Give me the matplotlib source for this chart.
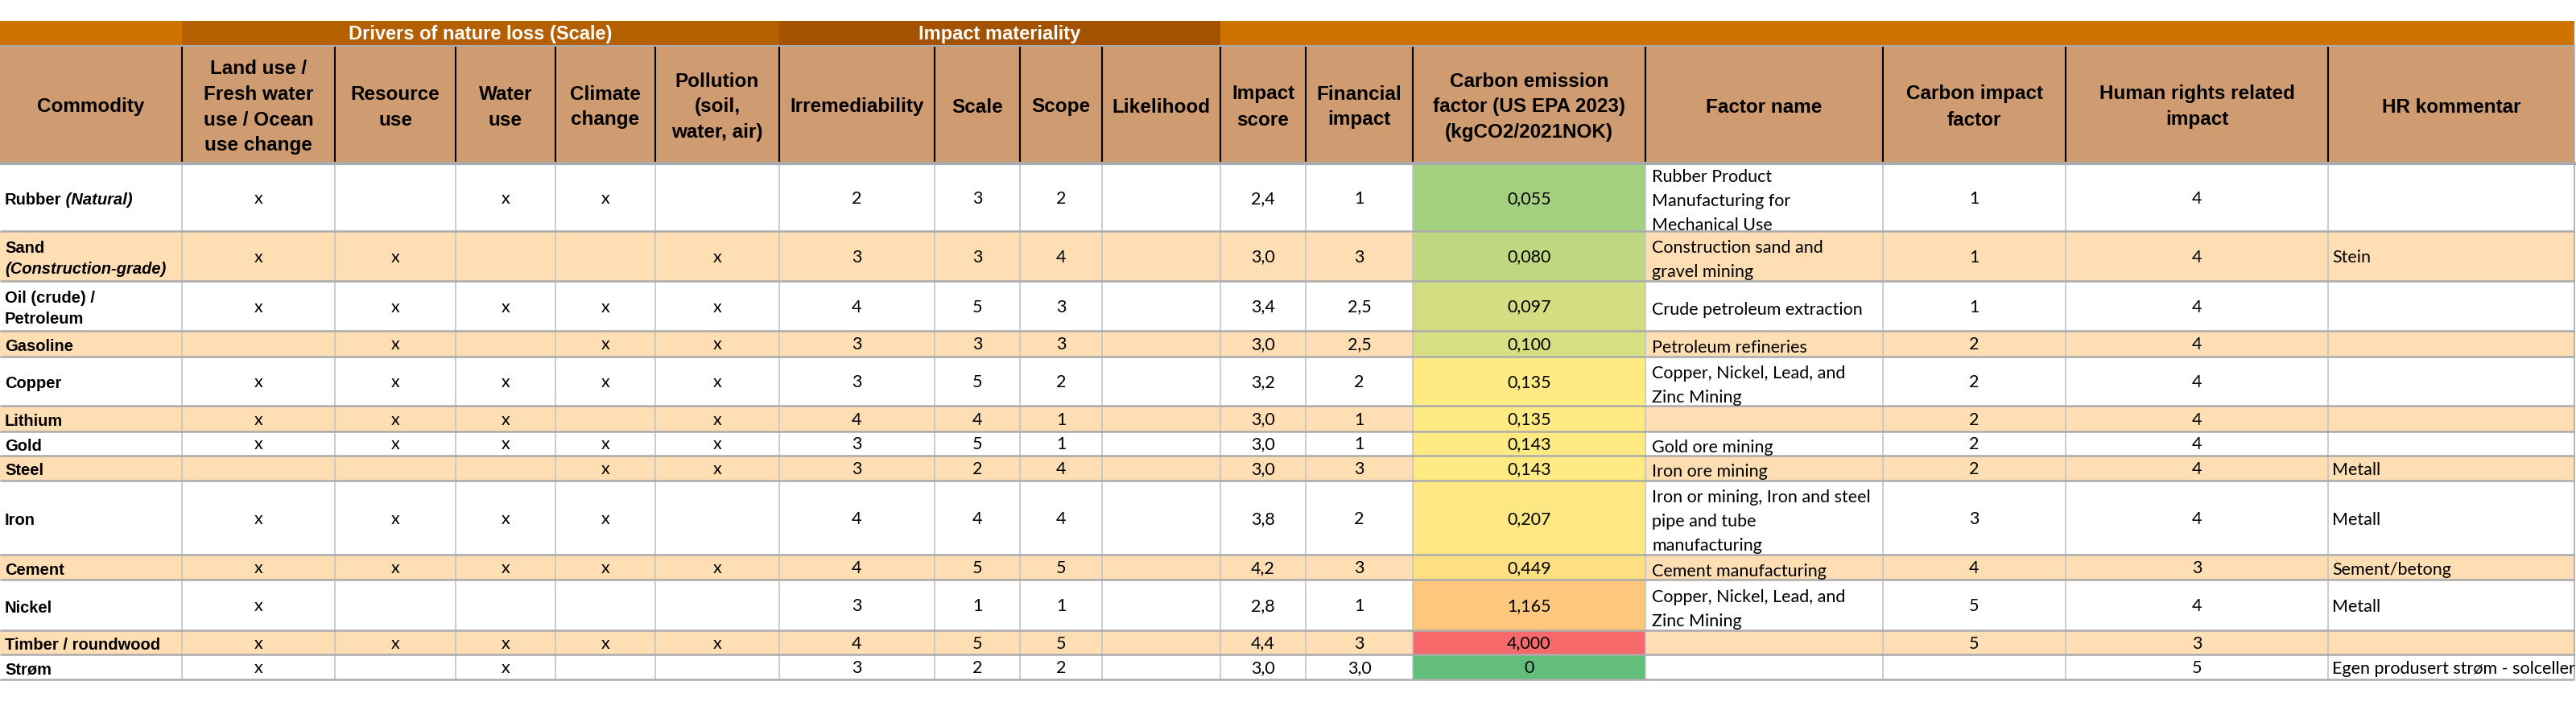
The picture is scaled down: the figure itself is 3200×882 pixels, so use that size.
import matplotlib
matplotlib.use("Agg")
import matplotlib.pyplot as plt
from matplotlib.patches import Rectangle
from matplotlib.colors import LinearSegmentedColormap, TwoSlopeNorm
import numpy as np

# ---------------- data ----------------
group_titles = ["", "Drivers of nature loss (Scale)", "Impact materiality", ""]
headers = ["Commodity", "Land use /\nFresh water\nuse / Ocean\nuse change", "Resource\nuse",
           "Water\nuse", "Climate\nchange", "Pollution\n(soil,\nwater, air)", "Irremediability",
           "Scale", "Scope", "Likelihood", "Impact\nscore", "Financial\nimpact",
           "Carbon emission\nfactor (US EPA 2023)\n(kgCO2/2021NOK)", "Factor name",
           "Carbon impact\nfactor", "Human rights related\nimpact", "HR kommentar"]

commodities = ["Rubber", "Sand", "Oil (crude) /\nPetroleum", "Gasoline", "Copper", "Lithium",
               "Gold", "Steel", "Iron", "Cement", "Nickel", "Timber / roundwood", "Strøm"]
commodity_notes = ["(Natural)", "(Construction-grade)", "", "", "", "", "", "", "", "", "", "", ""]

land_use = ["x", "x", "x", "", "x", "x", "x", "", "x", "x", "x", "x", "x"]
resource_use = ["", "x", "x", "x", "x", "x", "x", "", "x", "x", "", "x", ""]
water_use = ["x", "", "x", "", "x", "x", "x", "", "x", "x", "", "x", "x"]
climate_change = ["x", "", "x", "x", "x", "", "x", "x", "x", "x", "", "x", ""]
pollution = ["", "x", "x", "x", "x", "x", "x", "x", "", "x", "", "x", ""]

irremediability = [2, 3, 4, 3, 3, 4, 3, 3, 4, 4, 3, 4, 3]
scale = [3, 3, 5, 3, 5, 4, 5, 2, 4, 5, 1, 5, 2]
scope = [2, 4, 3, 3, 2, 1, 1, 4, 4, 5, 1, 5, 2]
likelihood = [""] * 13
impact_score = [2.4, 3.0, 3.4, 3.0, 3.2, 3.0, 3.0, 3.0, 3.8, 4.2, 2.8, 4.4, 3.0]
financial_impact = ["1", "3", "2,5", "2,5", "2", "1", "1", "3", "2", "3", "1", "3", "3,0"]
carbon_emission = [0.055, 0.080, 0.097, 0.100, 0.135, 0.135, 0.143, 0.143, 0.207, 0.449,
                   1.165, 4.000, 0.0]
factor_name = ["Rubber Product\nManufacturing for\nMechanical Use",
               "Construction sand and\ngravel mining", "Crude petroleum extraction",
               "Petroleum refineries", "Copper, Nickel, Lead, and\nZinc Mining", "",
               "Gold ore mining", "Iron ore mining",
               "Iron or mining, Iron and steel\npipe and tube\nmanufacturing",
               "Cement manufacturing", "Copper, Nickel, Lead, and\nZinc Mining", "", ""]
carbon_impact_factor = ["1", "1", "1", "2", "2", "2", "2", "2", "3", "4", "5", "5", ""]
hr_impact = [4, 4, 4, 4, 4, 4, 4, 4, 4, 3, 4, 3, 5]
hr_comment = ["", "Stein", "", "", "", "", "", "Metall", "Metall", "Sement/betong", "Metall", "",
              "Egen produsert strøm - solceller"]

# ---------------- layout / style ----------------
col_edges = [0, 226, 416, 566, 690, 814, 968, 1161, 1267, 1369, 1516, 1622, 1755, 2044,
             2339, 2566, 2892, 3198]
group_spans = [(0, 1), (1, 6), (6, 10), (10, 17)]
band_top, head_top, head_bot = 26, 57, 203
row_edges = [203, 286.5, 348.5, 410.5, 442.5, 503.5, 535.5, 565.5, 596.5, 689, 720,
             782.5, 812.5, 844]

ORANGE = "#CE7200"
group_colors = [ORANGE, "#B45F00", "#A35300", ORANGE]
HEAD_BG = "#CF9B71"
PEACH = "#FFDEB3"
WHITE = "#FFFFFF"
GRID = "#ABABAB"
VGRID = "#C4C4C4"

HEAD_FONT = ["Liberation Sans", "DejaVu Sans"]
BODY_FONT = ["Lato", "DejaVu Sans"]
HEAD_SIZE = 17.5
NAME_SIZE = 14.5
BODY_SIZE = 15.5

cmap = LinearSegmentedColormap.from_list("gyr", ["#63BE7B", "#FFEB84", "#F8696B"])
norm = TwoSlopeNorm(vmin=min(carbon_emission), vcenter=float(np.median(carbon_emission)),
                    vmax=max(carbon_emission))

fig = plt.figure(figsize=(32, 8.82), dpi=100)
ax = fig.add_axes([0, 0, 1, 1])
ax.set_xlim(0, 3200)
ax.set_ylim(882, 0)
ax.axis("off")

def cx(c):
    return (col_edges[c] + col_edges[c + 1]) / 2

# group band
for title, (c0, c1), colr in zip(group_titles, group_spans, group_colors):
    x0, x1 = col_edges[c0], col_edges[c1]
    ax.add_patch(Rectangle((x0, band_top), x1 - x0, head_top - band_top, facecolor=colr,
                           edgecolor="none"))
    if title:
        ax.text((x0 + x1) / 2, (band_top + head_top) / 2 + 1, title, ha="center", va="center",
                color="white", fontsize=17, fontweight="bold", family=HEAD_FONT)

# header row
ax.add_patch(Rectangle((0, head_top), col_edges[-1], head_bot - head_top, facecolor=HEAD_BG,
                       edgecolor="none"))
for c, h in enumerate(headers):
    lines = h.split("\n")
    n = len(lines)
    for k, ln in enumerate(lines):
        y = 133 + (k - (n - 1) / 2) * 32
        ax.text(cx(c), y, ln, ha="center", va="center", fontsize=HEAD_SIZE,
                fontweight="bold", family=HEAD_FONT, color="black")

# body backgrounds
nrows = len(commodities)
for i in range(nrows):
    y0, y1 = row_edges[i], row_edges[i + 1]
    ax.add_patch(Rectangle((0, y0), col_edges[-1], y1 - y0,
                           facecolor=WHITE if i % 2 == 0 else PEACH, edgecolor="none"))
    ax.add_patch(Rectangle((col_edges[12], y0), col_edges[13] - col_edges[12], y1 - y0,
                           facecolor=cmap(norm(carbon_emission[i])), edgecolor="none"))

# body texts
def fmt_num(v, dec):
    return f"{v:.{dec}f}".replace(".", ",")

centered_cols = {
    1: land_use, 2: resource_use, 3: water_use, 4: climate_change, 5: pollution,
    6: [str(v) for v in irremediability], 7: [str(v) for v in scale],
    8: [str(v) for v in scope], 9: likelihood,
    10: [fmt_num(v, 1) for v in impact_score], 11: financial_impact,
    12: [fmt_num(v, 3) if v else "0" for v in carbon_emission],
    14: carbon_impact_factor, 15: [str(v) for v in hr_impact],
}

for i in range(nrows):
    y0, y1 = row_edges[i], row_edges[i + 1]
    ym = (y0 + y1) / 2 + 2
    # commodity
    name, note = commodities[i], commodity_notes[i]
    yn = ym + 2
    if note and len(name) + len(note) > 18:
        ax.text(6, yn - 13.5, name, ha="left", va="center", fontsize=NAME_SIZE,
                fontweight="bold", family=HEAD_FONT)
        ax.text(6, yn + 13.5, note, ha="left", va="center", fontsize=NAME_SIZE,
                fontweight="bold", style="italic", family=HEAD_FONT)
    else:
        lines = name.split("\n")
        n = len(lines)
        last = None
        for k, ln in enumerate(lines):
            last = ax.text(6, yn + (k - (n - 1) / 2) * 27, ln, ha="left", va="center",
                           fontsize=NAME_SIZE, fontweight="bold", family=HEAD_FONT)
        if note:
            ax.annotate(" " + note, xy=(1, 0), xycoords=last, ha="left", va="bottom",
                        fontsize=NAME_SIZE, fontweight="bold", style="italic",
                        family=HEAD_FONT)
    for c, vals in centered_cols.items():
        if vals[i]:
            ax.text(cx(c), ym, vals[i], ha="center", va="center", fontsize=BODY_SIZE,
                    family=BODY_FONT)
    # factor name, wrapped and clipped to its cell
    clip = Rectangle((col_edges[13], y0 + 1), col_edges[14] - col_edges[13], y1 - y0 - 5.5,
                     transform=ax.transData, facecolor="none", edgecolor="none")
    if factor_name[i]:
        lines = factor_name[i].split("\n")
        n = len(lines)
        for k, ln in enumerate(lines):
            t = ax.text(col_edges[13] + 8, ym + 3.5 + (k - (n - 1) / 2) * 30, ln, ha="left",
                        va="center", fontsize=BODY_SIZE, family=BODY_FONT)
            t.set_clip_path(clip)
    if hr_comment[i]:
        ax.text(col_edges[16] + 5, ym + 1, hr_comment[i], ha="left", va="center",
                fontsize=BODY_SIZE, family=BODY_FONT)

# grid lines
for x in col_edges[1:-1]:
    ax.plot([x, x], [head_top, head_bot], color="black", lw=1.5, solid_capstyle="butt")
    ax.plot([x, x], [head_bot, row_edges[-1]], color=VGRID, lw=1.2, solid_capstyle="butt")
ax.plot([col_edges[-1]] * 2, [head_top, row_edges[-1]], color=GRID, lw=1.2)
ax.plot([0, col_edges[-1]], [head_top, head_top], color=GRID, lw=1.5)
ax.plot([0, col_edges[-1]], [head_bot, head_bot], color=GRID, lw=3.0)
for y in row_edges[1:]:
    ax.plot([0, col_edges[-1]], [y, y], color=GRID, lw=1.8, solid_capstyle="butt")

fig.savefig("out.png", dpi=100, facecolor="white")
